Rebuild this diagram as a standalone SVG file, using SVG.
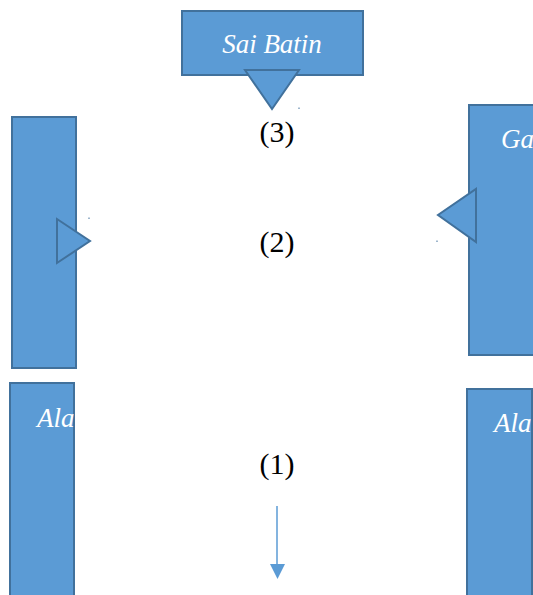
<svg xmlns="http://www.w3.org/2000/svg" width="533" height="595" viewBox="0 0 533 595">
<style>
.box{fill:#5b9bd5;stroke:#41719c;stroke-width:2}
.lbl{font-style:italic;font-size:27px;fill:#ffffff}
.num{font-size:30px;fill:#000000;text-anchor:middle}
.dot{fill:#41719c}
</style>
<defs>
<clipPath id="c1"><rect x="469" y="105" width="64" height="250"/></clipPath>
<clipPath id="c2"><rect x="10" y="383" width="64" height="212"/></clipPath>
<clipPath id="c3"><rect x="467" y="389" width="65" height="206"/></clipPath>
</defs>
<rect width="533" height="595" fill="#ffffff"/>
<g font-family="Liberation Serif, DejaVu Serif, serif">
<g id="sai-batin">
<rect class="box" x="182" y="11" width="181" height="64"/>
<text class="lbl" x="272" y="53" text-anchor="middle">Sai Batin</text>
<polygon class="box" points="245,70 299,70 272,109"/>
</g>
<g id="left-top">
<rect class="box" x="12" y="117" width="64" height="251"/>
<polygon class="box" points="57,219 57,263 90,241"/>
</g>
<g id="right-top">
<rect class="box" x="469" y="105" width="66" height="250"/>
<g clip-path="url(#c1)"><text class="lbl" x="501" y="148">Ga</text></g>
<polygon class="box" points="476,189 476,242 438,215"/>
</g>
<g id="left-bottom">
<rect class="box" x="10" y="383" width="64" height="215"/>
<g clip-path="url(#c2)"><text class="lbl" x="37" y="427">Ala</text></g>
</g>
<g id="right-bottom">
<rect class="box" x="467" y="389" width="65" height="210"/>
<g clip-path="url(#c3)"><text class="lbl" x="494" y="432">Ala</text></g>
</g>
<g id="labels">
<text class="num" x="277" y="142">(3)</text>
<text class="num" x="277" y="252">(2)</text>
<text class="num" x="277" y="474">(1)</text>
</g>
</g>
<g id="connectors">
<line x1="277" y1="506" x2="277" y2="566" stroke="#5b9bd5" stroke-width="1.5"/>
<polygon points="270,564 285,564 277.5,579" fill="#5b9bd5"/>
<rect class="dot" x="298.5" y="107.5" width="1" height="1.5"/>
<rect class="dot" x="88.5" y="217.5" width="1" height="1.5"/>
<rect class="dot" x="436.5" y="240.5" width="1" height="1.5"/>
</g>
</svg>
